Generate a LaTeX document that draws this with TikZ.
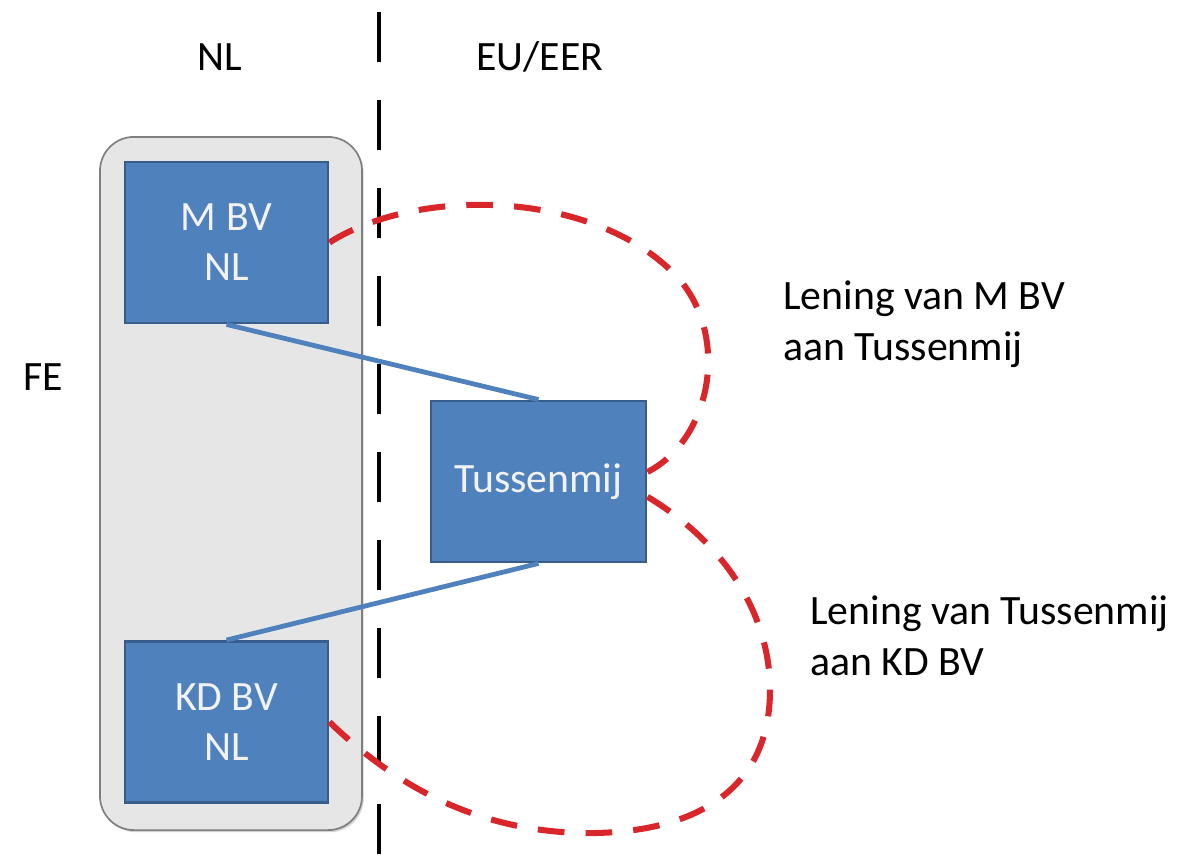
\documentclass[tikz,border=0pt]{standalone}
\usepackage{fontspec}
\setmainfont{Carlito}
\usepackage{tikz}
\usetikzlibrary{shadows}

\definecolor{boxblue}{HTML}{4F81BD}
\definecolor{boxedge}{HTML}{385D8A}
\definecolor{loanred}{HTML}{D9262B}
\definecolor{groupgray}{HTML}{E6E6E6}
\definecolor{groupedge}{HTML}{7F7F7F}

\begin{document}
\begin{tikzpicture}[
   x=0.025cm,y=-0.025cm,
   every node/.style={font=\fontsize{29.7}{35.6}\selectfont},
   firm/.style={draw=boxedge,line width=2pt,fill=boxblue,text=white!95!black,align=center,
                minimum width=5.075cm,minimum height=4.025cm,inner sep=0pt},
   group/.style={draw=groupedge,line width=1.2pt,fill=groupgray,rounded corners=0.85cm,
                 minimum width=6.55cm,minimum height=17.325cm,
                 drop shadow={opacity=0.35,shadow xshift=1.2pt,shadow yshift=-1.5pt}},
   link/.style={boxblue,line width=3.4pt},
   loan/.style={loanred,line width=4.3pt,dash pattern=on 19pt off 15pt},
   border/.style={black,line width=2.8pt,dash pattern=on 35.6pt off 27pt},
   label/.style={inner sep=0pt,align=left}]
\useasboundingbox (0,0) rectangle (1177,855);

% fiscale eenheid
\node[group] (FE) at (231,483.5) {};

% grens NL / EU-EER
\coordinate (bordertop) at (379,12);
\coordinate (borderbot) at (379,855);
\draw[border] (bordertop) -- (borderbot);

% vennootschappen
\node[firm] (MBV) at (226.5,242.5) {M BV\\NL};
\node[firm] (KDBV) at (226.5,722) {KD BV\\NL};
\node[firm,minimum width=5.375cm] (TUS) at (538.5,481.5) {Tussenmij};

% deelnemingen
\draw[link] (MBV.south) -- (TUS.north);
\draw[link] (TUS.south) -- (KDBV.north);

% leningen
\draw[loan] (MBV.east) .. controls (420,185) and (600,190) .. (680,280)
   .. controls (730,340) and (710,440) .. (TUS.5);
\draw[loan] (TUS.-8) .. controls (720,540) and (770,610) .. (770,690)
   .. controls (770,800) and (680,835) .. (580,833)
   .. controls (480,830) and (400,790) .. (KDBV.east);

% teksten
\node[label,anchor=base] (nl) at (220,70) {NL};
\node[label,anchor=base] (eu) at (540,70) {EU/EER};
\node[label,anchor=base] (fe) at (43,390) {FE};
\node[label,anchor=base west] (loan1) at (783,360) {Lening van M BV\\aan Tussenmij};
\node[label,anchor=base west] (loan2) at (810,675) {Lening van Tussenmij\\aan KD BV};
\end{tikzpicture}
\end{document}
